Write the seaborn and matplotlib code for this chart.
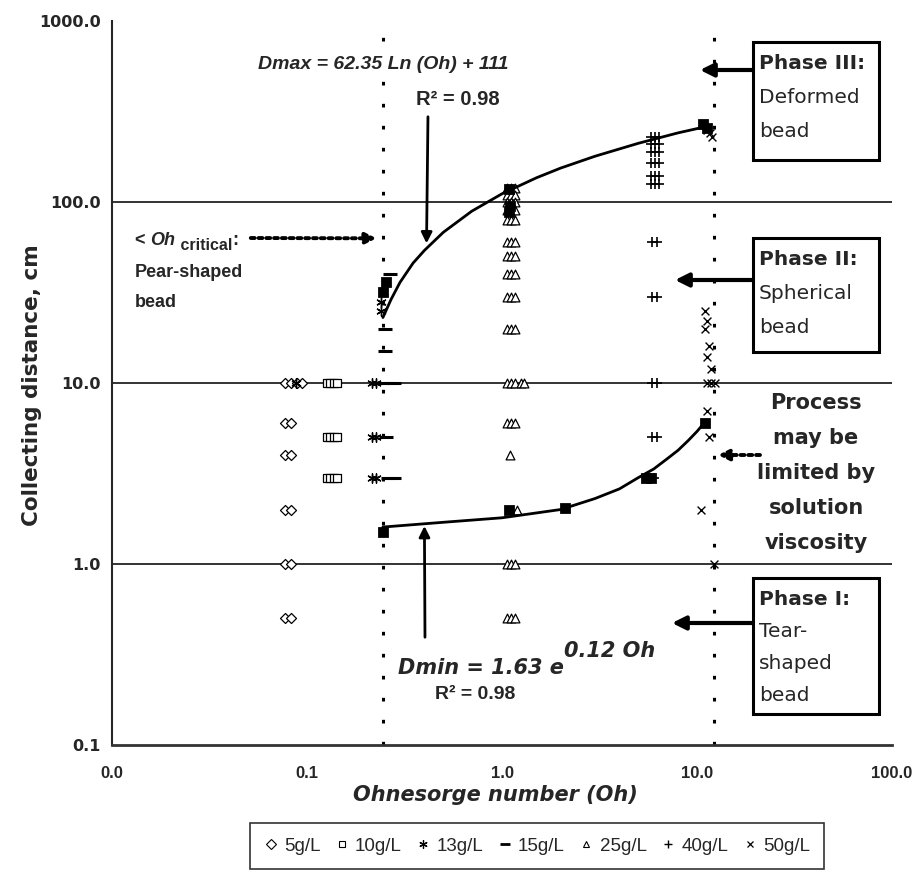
import matplotlib
matplotlib.use("Agg")
import matplotlib.pyplot as plt
from matplotlib.patches import Rectangle
from matplotlib.lines import Line2D
import pandas as pd
import seaborn as sns

# values: Ohnesorge number vs collecting distance (cm)
oh_5 = [0.077, 0.083, 0.089, 0.094, 0.077, 0.083, 0.077, 0.083, 0.077, 0.083, 0.077, 0.083, 0.077, 0.083]
d_5 = [10, 10, 10, 10, 6, 6, 4, 4, 2, 2, 1, 1, 0.5, 0.5]

oh_10 = [0.126, 0.131, 0.137, 0.143, 0.126, 0.131, 0.137, 0.143, 0.126, 0.131, 0.137, 0.143]
d_10 = [10, 10, 10, 10, 5, 5, 5, 5, 3, 3, 3, 3]

oh_13 = [0.088, 0.215, 0.225, 0.215, 0.225, 0.215, 0.225, 0.24, 0.24]
d_13 = [10, 10, 10, 5, 5, 3, 3, 25, 28]

oh_15 = [0.245, 0.26, 0.28, 0.255, 0.26, 0.28, 0.25, 0.25, 0.265]
d_15 = [10, 10, 10, 5, 3, 3, 15, 20, 40]

oh_25 = [1.06, 1.11, 1.16] * 14 + [1.1, 1.2, 1.25, 1.3]
d_25 = ([120] * 3 + [110] * 3 + [100] * 3 + [90] * 3 + [80] * 3 + [60] * 3 + [50] * 3
        + [40] * 3 + [30] * 3 + [20] * 3 + [10] * 3 + [6] * 3 + [1] * 3 + [0.5] * 3
        + [4, 2, 10, 10])

oh_40 = [5.8, 6.1, 6.4] * 6 + [5.9, 6.2] * 4 + [6.0]
d_40 = ([230] * 3 + [210] * 3 + [190] * 3 + [165] * 3 + [140] * 3 + [125] * 3
        + [60, 60, 30, 30, 10, 10, 5, 5] + [3])

oh_50 = [11.2, 11.6, 12.0, 11.0, 11.3, 11.0, 11.5, 11.3, 11.8, 11.2, 11.8, 12.3, 11.3, 11.5, 10.5, 12.2]
d_50 = [250, 240, 230, 25, 22, 20, 16, 14, 12, 10, 10, 10, 7, 5, 2, 1]

# black squares used for the two fits
oh_fit_pts = [0.245, 0.255, 1.08, 1.1, 1.08, 10.7, 11.2, 0.245, 1.08, 2.1, 5.5, 5.8, 11.0]
d_fit_pts = [32, 36, 118, 95, 88, 270, 255, 1.5, 2.0, 2.05, 3.0, 3.0, 6.0]

# fit curves
dmax_oh = [0.245, 0.27, 0.3, 0.35, 0.4, 0.5, 0.7, 1.0, 1.5, 2, 3, 5, 8, 11.5]
dmax_d = [23, 29, 36, 46, 54, 68, 89, 111, 136, 154, 179, 211, 241, 263]
dmin_oh = [0.245, 0.5, 1, 2, 3, 4, 5, 6, 7, 8, 9, 10, 11]
dmin_d = [1.6, 1.7, 1.8, 2.0, 2.3, 2.6, 3.0, 3.35, 3.8, 4.25, 4.8, 5.4, 6.1]

oh_limits = [0.245, 12.2]   # dashed boundaries
grid_vals = [1, 10, 100]

x_ticks = [0.01, 0.1, 1, 10, 100]
x_tick_labels = ["0.0", "0.1", "1.0", "10.0", "100.0"]
y_ticks = [0.1, 1, 10, 100, 1000]
y_tick_labels = ["0.1", "1.0", "10.0", "100.0", "1000.0"]

W, H = 919, 892
sns.set_style("white")
plt.rcParams["font.family"] = ["Liberation Sans", "DejaVu Sans"]

fig = plt.figure(figsize=(W / 100, H / 100), dpi=100)
ax = fig.add_axes([112 / W, 1 - 745 / H, 780 / W, 724 / H])
ax.set_xscale("log")
ax.set_yscale("log")
ax.set_xlim(0.01, 100)
ax.set_ylim(0.1, 1000)

for g in grid_vals:
    ax.axhline(g, color="#333333", lw=1.4, zorder=1)
for v in oh_limits:
    ax.axvline(v, color="black", lw=2.2, ls=(0, (1.2, 6)), zorder=1)

styles = [
    ("5g/L", oh_5, d_5, dict(marker="D", s=26, color="white", edgecolor="black", linewidth=0.9)),
    ("10g/L", oh_10, d_10, dict(marker="s", s=26, color="white", edgecolor="black", linewidth=0.9)),
    ("13g/L", oh_13, d_13, dict(marker=(6, 2, 0), s=45, color="black", linewidth=1)),
    ("15g/L", oh_15, d_15, dict(marker="_", s=110, color="black", linewidth=2.2)),
    ("25g/L", oh_25, d_25, dict(marker="^", s=40, color="white", edgecolor="black", linewidth=0.9)),
    ("40g/L", oh_40, d_40, dict(marker="+", s=60, color="black", linewidth=1.2)),
    ("50g/L", oh_50, d_50, dict(marker="x", s=32, color="black", linewidth=1)),
]
for name, xs, ys, kw in styles:
    df = pd.DataFrame({"oh": xs, "d": ys})
    sns.scatterplot(data=df, x="oh", y="d", ax=ax, legend=False, zorder=3, **kw)

sns.lineplot(x=dmax_oh, y=dmax_d, ax=ax, color="black", lw=2, sort=False, estimator=None, zorder=4)
sns.lineplot(x=dmin_oh, y=dmin_d, ax=ax, color="black", lw=2, sort=False, estimator=None, zorder=4)
sns.scatterplot(x=oh_fit_pts, y=d_fit_pts, ax=ax, marker="s", s=50, color="black",
                edgecolor="black", legend=False, zorder=5)

# axes cosmetics
ax.set_xticks(x_ticks)
ax.set_xticklabels(x_tick_labels)
ax.set_yticks(y_ticks)
ax.set_yticklabels(y_tick_labels)
ax.minorticks_off()
ax.tick_params(axis="x", direction="out", length=5, width=1.4, pad=10, labelsize=12)
ax.tick_params(axis="y", direction="out", length=5, width=1.4, pad=3, labelsize=11.5)
for lab in ax.get_xticklabels():
    lab.set_fontweight("bold")
for lab in ax.get_yticklabels():
    lab.set_fontweight("bold")
    lab.set_family("DejaVu Sans")
ax.spines["top"].set_visible(False)
ax.spines["right"].set_visible(False)
ax.spines["left"].set_linewidth(1.5)
ax.spines["bottom"].set_linewidth(2)
ax.spines["bottom"].set_color("#333333")
ax.set_xlabel("")
ax.set_ylabel("")

fig.text(32 / W, 1 - 385 / H, "Collecting distance, cm", rotation=90, ha="center", va="center",
         fontsize=15.5, fontweight="bold", family="DejaVu Sans")
fig.text(495 / W, 1 - 795 / H, "Ohnesorge number (Oh)", ha="center", va="center",
         fontsize=15, fontweight="bold", fontstyle="italic", family="DejaVu Sans")

fig.canvas.draw()
rend = fig.canvas.get_renderer()


def chain(parts, x, y):
    # put text pieces one after the other on a shared baseline (pixels from top-left)
    for s, kw, dy in parts:
        t = fig.text(x / W, 1 - (y + dy) / H, s, va="baseline", ha="left", **kw)
        x = t.get_window_extent(rend).x1
    return x


bd = dict(fontsize=13, fontweight="bold")
dj_bi = dict(fontsize=15, fontweight="bold", fontstyle="italic", family="DejaVu Sans")

fig.text(258 / W, 1 - 69 / H, "Dmax = 62.35 Ln (Oh) + 111", va="baseline", fontsize=14,
         fontweight="bold", fontstyle="italic",
         bbox=dict(facecolor="white", edgecolor="none", pad=1), zorder=5)
fig.text(458 / W, 1 - 105 / H, "R² = 0.98", ha="center", va="baseline", fontsize=14.5,
         fontweight="bold")
ax.annotate("", xy=(0.41, 57), xycoords="data", xytext=(428 / W, 1 - 114 / H),
            textcoords="figure fraction",
            arrowprops=dict(arrowstyle="-|>", lw=2, color="black", mutation_scale=16))

chain([("Dmin = 1.63 e", dj_bi, 0), ("0.12 Oh", dj_bi, -17)], 398, 674)
fig.text(475 / W, 1 - 699 / H, "R² = 0.98", ha="center", va="baseline", fontsize=14,
         fontweight="bold")
ax.annotate("", xy=(0.40, 1.68), xycoords="data", xytext=(425 / W, 1 - 640 / H),
            textcoords="figure fraction",
            arrowprops=dict(arrowstyle="-|>", lw=2, color="black", mutation_scale=16))

x_end = chain([("< ", bd, 0), ("Oh", dict(bd, fontstyle="italic"), 0),
               (" critical", dict(fontsize=11.5, fontweight="bold"), 5), (":", bd, 0)], 135, 245)
fig.text(135 / W, 1 - 277 / H, "Pear-shaped", va="baseline", **bd)
fig.text(135 / W, 1 - 307 / H, "bead", va="baseline", **bd)
ax.annotate("", xy=(0.235, 63), xycoords="data", xytext=((x_end + 10) / W, 1 - 238 / H),
            textcoords="figure fraction",
            arrowprops=dict(arrowstyle="-|>", lw=2.8, ls=(0, (1, 1)), color="black", mutation_scale=16))

# phase boxes on the right
boxes = [
    (42, 160, ["Phase III:", "Deformed", "bead"], 34, 70, 700),
    (238, 352, ["Phase II:", "Spherical", "bead"], 34, 280, 675),
    (578, 714, ["Phase I:", "Tear-", "shaped", "bead"], 32, 623, 672),
]
for top, bot, lines, step, ay, tip in boxes:
    fig.patches.append(Rectangle((753 / W, 1 - bot / H), 126 / W, (bot - top) / H,
                                 transform=fig.transFigure, fill=True, facecolor="white",
                                 edgecolor="black", lw=2.2, zorder=5))
    for i, s in enumerate(lines):
        fig.text(759 / W, 1 - (top + 27 + i * step) / H, s, va="baseline", ha="left",
                 fontsize=14.5, family="DejaVu Sans", fontweight="bold" if i == 0 else "normal",
                 zorder=6)
    ax.annotate("", xy=(tip / W, 1 - ay / H), xycoords="figure fraction",
                xytext=(753 / W, 1 - ay / H), textcoords="figure fraction",
                arrowprops=dict(arrowstyle="-|>", lw=3, color="black", mutation_scale=20,
                                shrinkA=0, shrinkB=0))

for i, s in enumerate(["Process", "may be", "limited by", "solution", "viscosity"]):
    fig.text(816 / W, 1 - (409 + i * 35) / H, s, ha="center", va="baseline",
             fontsize=15, fontweight="bold", family="DejaVu Sans")
ax.annotate("", xy=(718 / W, 1 - 455 / H), xycoords="figure fraction",
            xytext=(760 / W, 1 - 455 / H), textcoords="figure fraction",
            arrowprops=dict(arrowstyle="-|>", lw=2.8, ls=(0, (1, 1)), color="black",
                            mutation_scale=16, shrinkA=0, shrinkB=0))

# legend at the bottom
handles = [
    Line2D([], [], ls="none", marker="D", ms=5, mfc="white", mec="black", mew=0.8),
    Line2D([], [], ls="none", marker="s", ms=5, mfc="white", mec="black", mew=0.8),
    Line2D([], [], ls="none", marker=(6, 2, 0), ms=6, color="black", mew=0.9),
    Line2D([], [], ls="none", marker="_", ms=7, color="black", mew=2),
    Line2D([], [], ls="none", marker="^", ms=5, mfc="white", mec="black", mew=0.8),
    Line2D([], [], ls="none", marker="+", ms=6, color="black", mew=1),
    Line2D([], [], ls="none", marker="x", ms=5, color="black", mew=0.9),
]
labels = [s[0] for s in styles]
leg = fig.legend(handles, labels, loc="center", bbox_to_anchor=(537 / W, 1 - 846 / H), ncol=7,
                 frameon=True, fancybox=False, edgecolor="black",
                 handlelength=0.7, handletextpad=0.35, columnspacing=0.8, borderpad=0.75,
                 prop={"family": ["Liberation Sans Narrow", "Liberation Sans"], "size": 13.5})
leg.get_frame().set_linewidth(1.2)

fig.savefig("out.png", dpi=100, facecolor="white")
